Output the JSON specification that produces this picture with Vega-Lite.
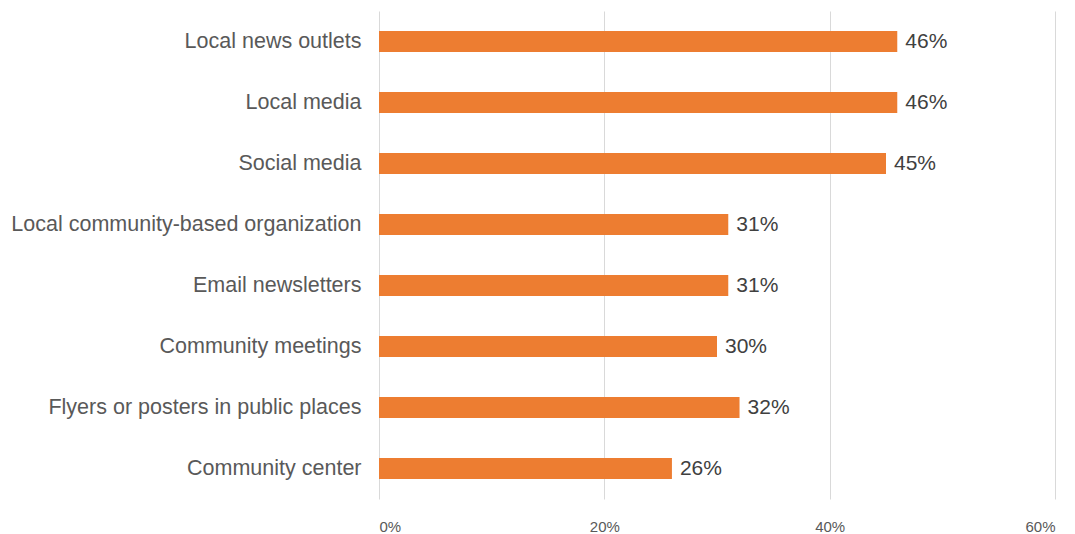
{
  "$schema": "https://vega.github.io/schema/vega-lite/v6.json",
  "width": 676,
  "height": 488,
  "autosize": {"type": "none"},
  "padding": {"left": 379, "top": 11, "right": 20, "bottom": 35},
  "background": "white",
  "config": {"view": {"stroke": null}},
  "data": {
    "values": [
      {"channel": "Local news outlets", "pct": 0.46},
      {"channel": "Local media", "pct": 0.46},
      {"channel": "Social media", "pct": 0.45},
      {"channel": "Local community-based organization", "pct": 0.31},
      {"channel": "Email newsletters", "pct": 0.31},
      {"channel": "Community meetings", "pct": 0.30},
      {"channel": "Flyers or posters in public places", "pct": 0.32},
      {"channel": "Community center", "pct": 0.26}
    ]
  },
  "encoding": {
    "y": {
      "field": "channel",
      "type": "nominal",
      "sort": null,
      "scale": {"paddingInner": 0.656, "paddingOuter": 0.328},
      "axis": {
        "title": null,
        "domain": false,
        "ticks": false,
        "labelPadding": 18,
        "labelFont": "Liberation Sans",
        "labelFontSize": 21.5,
        "labelColor": "#595959",
        "labelLimit": 400
      }
    },
    "x": {
      "field": "pct",
      "type": "quantitative",
      "scale": {"domain": [0, 0.6], "nice": false},
      "axis": {
        "title": null,
        "format": ".0%",
        "values": [0, 0.2, 0.4, 0.6],
        "domain": false,
        "ticks": false,
        "grid": true,
        "gridColor": "#d9d9d9",
        "gridWidth": 1,
        "labelPadding": 20,
        "labelFont": "Liberation Sans",
        "labelFontSize": 15,
        "labelColor": "#595959"
      }
    }
  },
  "layer": [
    {"mark": {"type": "bar", "color": "#ED7D31"}},
    {
      "mark": {"type": "text", "align": "left", "baseline": "middle", "dx": 8, "font": "Liberation Sans", "fontSize": 21, "color": "#404040"},
      "encoding": {"text": {"field": "pct", "type": "quantitative", "format": ".0%"}}
    }
  ]
}
